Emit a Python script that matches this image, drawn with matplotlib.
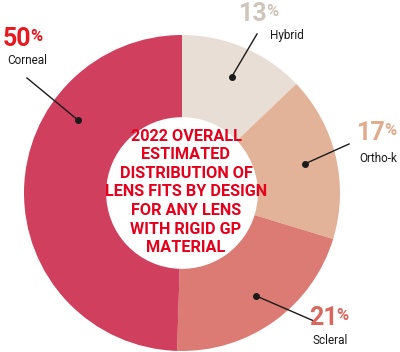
import matplotlib.pyplot as plt
import numpy as np

# data
labels = ['Hybrid', 'Ortho-k', 'Scleral', 'Corneal']
values = [13, 17, 21, 50]
colors = ['#e8ded5', '#e2b398', '#db7b73', '#d0405e']
pct_colors = ['#cfc5bb', '#e2ab8c', '#d9675e', '#e8191e']
title = '2022 OVERALL\nESTIMATED\nDISTRIBUTION OF\nLENS FITS BY DESIGN\nFOR ANY LENS\nWITH RIGID GP\nMATERIAL'

W, H = 400, 352
CX, CY, R = 182, 193, 158

fig = plt.figure(figsize=(W / 100, H / 100), dpi=100)
ax = fig.add_axes([0, 0, 1, 1])
ax.axis('off')


def px(x, y):
    # pixel position (from top-left) -> data units
    return (x - CX) / R, (CY - y) / R


wedges, _ = ax.pie(values, colors=colors, startangle=90, counterclock=False,
                   radius=1, wedgeprops=dict(width=0.52, linewidth=0),
                   center=(0, 0))
ax.set_xlim(-CX / R, (W - CX) / R)
ax.set_ylim(-(H - CY) / R, CY / R)

fam = ['Roboto', 'DejaVu Sans']

ax.text(*px(186, 192), title, ha='center', va='center', color='#e5001c',
        fontsize=11.7, fontweight='bold', family=fam, linespacing=1.3)

# label layout: percent text position, name position, line end
layout = {
    'Hybrid':  dict(pct=(258, 14), name=(287, 36), line=(257, 34)),
    'Ortho-k': dict(pct=(376, 133), name=(378, 158), line=(349, 144)),
    'Scleral': dict(pct=(328, 318), name=(330, 341), line=(314, 321)),
    'Corneal': dict(pct=(22, 39), name=(27, 61), line=(27, 78)),
}
dot_angle = {'Corneal': 145}

for w, lab, v, pc in zip(wedges, labels, values, pct_colors):
    L = layout[lab]
    ang = dot_angle.get(lab, (w.theta1 + w.theta2) / 2)
    r = 0.8
    dx, dy = r * np.cos(np.radians(ang)), r * np.sin(np.radians(ang))
    lx, ly = px(*L['line'])
    ax.plot([dx, lx], [dy, ly], color='#1a1a1a', lw=1)
    ax.plot(dx, dy, 'o', color='#1a1a1a', ms=4)
    x, y = px(*L['pct'])
    ax.text(x + 0.06, y, str(v), ha='right', va='center', color=pc,
            fontsize=18, fontweight='bold', family=fam)
    ax.text(x + 0.055, y + 0.015, '%', ha='left', va='center', color=pc,
            fontsize=12, fontweight='bold', family=fam)
    ax.text(*px(*L['name']), lab, ha='center', va='center', color='#1a1a1a',
            fontsize=8.5, family=fam)

fig.savefig('out.png', dpi=100)
